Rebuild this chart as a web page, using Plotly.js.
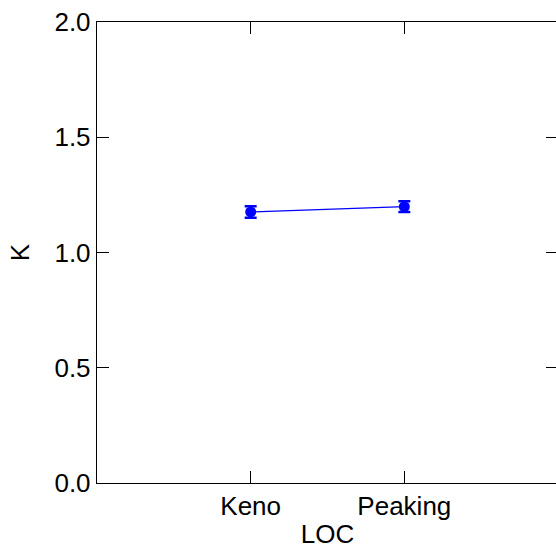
<!DOCTYPE html>
<html>
<head>
<meta charset="utf-8">
<script src="https://cdn.plot.ly/plotly-3.0.1.min.js"></script>
<style>html,body{margin:0;padding:0;background:#fff;overflow:hidden;}#chart{width:558px;height:557px;}</style>
</head>
<body>
<div id="chart"></div>
<script>
const categories = ["Keno", "Peaking"];
const kValues = [1.176, 1.199];
const kErrors = [0.025, 0.023];
const yTickVals = [0, 0.5, 1.0, 1.5, 2.0];
const yTickText = ["0.0", "0.5", "1.0", "1.5", "2.0"];

const font = {family: "Liberation Sans, Arial, sans-serif", size: 26, color: "#000"};

const trace = {
  x: categories,
  y: kValues,
  type: "scatter",
  mode: "lines+markers",
  line: {color: "#0000ff", width: 1.2},
  marker: {color: "#0000ff", size: 11},
  error_y: {type: "data", array: kErrors, visible: true, color: "#0000ff", thickness: 2.5, width: 6},
  showlegend: false
};

const layout = {
  width: 558, height: 557,
  margin: {l: 97, r: 0, t: 22, b: 74},
  paper_bgcolor: "#fff", plot_bgcolor: "#fff",
  font: font,
  xaxis: {
    type: "category",
    range: [-1, 2],
    showline: true, linecolor: "#000", linewidth: 1.2,
    mirror: "ticks",
    ticks: "inside", ticklen: 12, tickcolor: "#000", tickwidth: 1,
    showgrid: false, zeroline: false,
    tickfont: font,
    title: {text: "LOC", font: font, standoff: 4}
  },
  yaxis: {
    range: [0, 2],
    tickvals: yTickVals, ticktext: yTickText,
    showline: true, linecolor: "#000", linewidth: 1.2,
    mirror: "ticks",
    ticks: "inside", ticklen: 12, tickcolor: "#000", tickwidth: 1,
    showgrid: false, zeroline: false,
    tickfont: font,
    title: {text: "K", font: font, standoff: 17}
  }
};

Plotly.newPlot("chart", [trace], layout, {displayModeBar: false, staticPlot: true});
</script>
</body>
</html>
